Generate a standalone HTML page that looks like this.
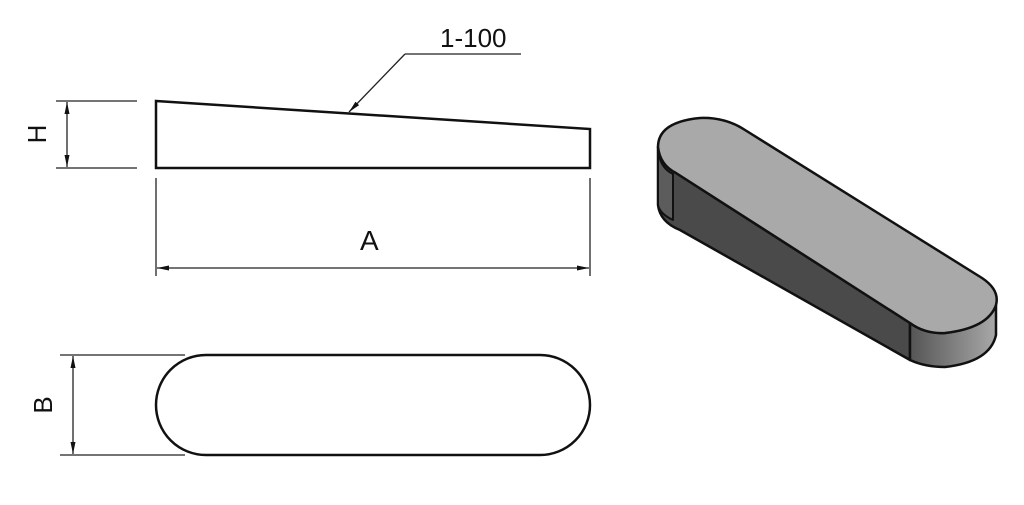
<!DOCTYPE html>
<html><head><meta charset="utf-8"><style>
html,body{margin:0;padding:0;background:#fff;width:1024px;height:505px;overflow:hidden}
svg{display:block}
text{font-family:"Liberation Sans",Arial,sans-serif;fill:#111}
</style></head><body>
<svg width="1024" height="505" viewBox="0 0 1024 505" xmlns="http://www.w3.org/2000/svg">
<defs>
<marker id="ar" markerWidth="12" markerHeight="8" refX="12" refY="4" orient="auto-start-reverse" markerUnits="userSpaceOnUse">
<path d="M0,1.5 L12,4 L0,6.5 Z" fill="#111"/></marker>
<linearGradient id="endg" x1="0" x2="1" y1="0" y2="0"><stop offset="0" stop-color="#555"/><stop offset="1" stop-color="#a8a8a8"/></linearGradient>
</defs>
<!-- side view -->
<path d="M156,101 L590,129 L590,168 L156,168 Z" fill="none" stroke="#111" stroke-width="2.5"/>
<g stroke="#222" stroke-width="1.3">
<line x1="56" y1="101" x2="137" y2="101"/><line x1="56" y1="168" x2="137" y2="168"/>
<line x1="67" y1="102" x2="67" y2="167" marker-start="url(#ar)" marker-end="url(#ar)"/>
<line x1="156" y1="178" x2="156" y2="276"/><line x1="590" y1="178" x2="590" y2="276"/>
<line x1="157" y1="268" x2="589" y2="268" marker-start="url(#ar)" marker-end="url(#ar)"/>
<polyline points="405,54 521,54" fill="none"/>
<line x1="405" y1="54" x2="349" y2="112" marker-end="url(#ar)"/>
</g>
<text x="440" y="47" font-size="26">1-100</text>
<text x="360" y="250" font-size="28">A</text>
<text transform="translate(46,134) rotate(-90)" font-size="26" text-anchor="middle">H</text>
<!-- top view -->
<rect x="156" y="355" width="434" height="100" rx="50" ry="50" fill="none" stroke="#111" stroke-width="2.5"/>
<g stroke="#222" stroke-width="1.3">
<line x1="60" y1="355" x2="185" y2="355"/><line x1="60" y1="455" x2="185" y2="455"/>
<line x1="73" y1="356" x2="73" y2="454" marker-start="url(#ar)" marker-end="url(#ar)"/>
</g>
<text transform="translate(52,405) rotate(-90)" font-size="26" text-anchor="middle">B</text>
<!-- iso -->
<g stroke="#111" stroke-width="2.5" stroke-linejoin="round">
<path d="M658,147 L658,205 Q660,222 680,230 L910,360 L910,323 L676,173 Q662,166 658,147 Z" fill="#4a4a4a"/>
<path d="M658,150 Q660,168 673,174 L673,220 Q660,214 658,205 Z" fill="#5c5c5c" stroke-width="2"/>
<path d="M910,323 Q925,334 945,333 Q988,328 996,305 L996,335 Q990,362 945,367 Q925,367 910,360 Z" fill="url(#endg)"/>
<path d="M658,147 Q658,122 700,118 Q725,117 745,130 L982,278 Q1000,290 996,305 Q988,328 945,333 Q925,334 910,323 L676,173 Q660,165 658,147 Z" fill="#a9a9a9"/>
</g>
</svg>
</body></html>
